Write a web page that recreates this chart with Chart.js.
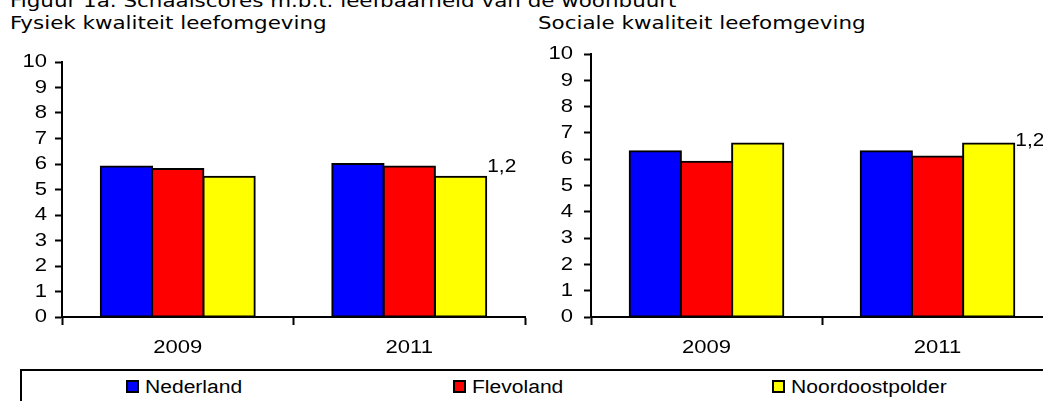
<!DOCTYPE html>
<html>
<head>
<meta charset="utf-8">
<script src="https://cdn.jsdelivr.net/npm/chart.js@4/dist/chart.umd.min.js"></script>
<style>
  html, body { margin: 0; padding: 0; width: 1043px; height: 401px; overflow: hidden; background: #fff; }
  .t { position: absolute; font-family: "DejaVu Sans", Verdana, sans-serif; font-size: 18px; line-height: 22px; color: #000; white-space: nowrap; transform: scaleX(1.19); transform-origin: 0 0; }
  canvas { position: absolute; }
  #legend { position: absolute; left: 20px; top: 369px; width: 1100px; height: 60px; border: 2px solid #000; box-sizing: border-box; }
  .li { position: absolute; top: 9px; height: 16px; }
  .sw { position: absolute; left: 0; top: 0; width: 13px; height: 13px; border: 2px solid #000; box-sizing: border-box; }
  .lt { position: absolute; left: 19px; top: -4px; font-family: "Liberation Sans", Arial, sans-serif; font-size: 18px; line-height: 22px; white-space: nowrap; transform: scaleX(1.17); transform-origin: 0 0; }
</style>
</head>
<body>
<div class="t" style="left:10px; top:-10px;">Figuur 1a. Schaalscores m.b.t. leefbaarheid van de woonbuurt</div>
<div class="t" id="title1" style="left:10px; top:12px;"></div>
<div class="t" id="title2" style="left:538px; top:12px;"></div>
<canvas id="c1" width="560" height="365" style="left:0; top:0; width:560px; height:365px;"></canvas>
<canvas id="c2" width="530" height="365" style="left:530px; top:0; width:530px; height:365px;"></canvas>
<div id="legend"></div>
<script>
// ---- data ----
const categories = ['2009', '2011'];
const seriesNames = ['Nederland', 'Flevoland', 'Noordoostpolder'];
const seriesColors = ['#0000FF', '#FF0000', '#FFFF00'];
const panelTitles = ['Fysiek kwaliteit leefomgeving', 'Sociale kwaliteit leefomgeving'];
const yTickValues = [0, 1, 2, 3, 4, 5, 6, 7, 8, 9, 10];
const fysiekNederland = [5.9, 6.0];
const fysiekFlevoland = [5.8, 5.9];
const fysiekNoordoostpolder = [5.5, 5.5];
const socialeNederland = [6.3, 6.3];
const socialeFlevoland = [5.9, 6.1];
const socialeNoordoostpolder = [6.6, 6.6];
const noteText = '1,2';

// ---- text stretch (reference text is horizontally widened) ----
const SX = 1.16;
function stretchCtx(canvas, sx) {
  const ctx = canvas.getContext('2d');
  const f = ctx.fillText.bind(ctx);
  const m = ctx.measureText.bind(ctx);
  ctx.fillText = function (t, x, y) {
    ctx.save(); ctx.translate(x, y); ctx.scale(sx, 1); f(t, 0, 0); ctx.restore();
  };
  ctx.measureText = function (t) {
    const r = m(t);
    return { width: r.width * sx, actualBoundingBoxAscent: r.actualBoundingBoxAscent, actualBoundingBoxDescent: r.actualBoundingBoxDescent, actualBoundingBoxLeft: r.actualBoundingBoxLeft, actualBoundingBoxRight: r.actualBoundingBoxRight };
  };
}

document.getElementById('title1').textContent = panelTitles[0];
document.getElementById('title2').textContent = panelTitles[1];

// legend
const legend = document.getElementById('legend');
const legendStarts = [104, 431, 750];
seriesNames.forEach((n, i) => {
  const d = document.createElement('div');
  d.className = 'li';
  d.style.left = legendStarts[i] + 'px';
  const s = document.createElement('div'); s.className = 'sw'; s.style.background = seriesColors[i];
  const t = document.createElement('div'); t.className = 'lt'; t.textContent = n;
  d.appendChild(s); d.appendChild(t); legend.appendChild(d);
});

Chart.defaults.font.family = '"Liberation Sans", Arial, sans-serif';
Chart.defaults.font.size = 19;
Chart.defaults.color = '#000';

const notePlugin = {
  id: 'note',
  afterDatasetsDraw(chart, args, opts) {
    const meta = chart.getDatasetMeta(seriesNames.length - 1);
    const bar = meta.data[categories.length - 1];
    const ctx = chart.ctx;
    ctx.save();
    ctx.font = '18px "Liberation Sans", Arial, sans-serif';
    ctx.fillStyle = '#000';
    ctx.textAlign = 'left';
    ctx.textBaseline = 'alphabetic';
    ctx.fillText(opts.text, bar.x + bar.width / 2 + opts.dx, bar.y + opts.dy);
    ctx.restore();
  }
};

function makeChart(id, values, cfg) {
  const canvas = document.getElementById(id);
  stretchCtx(canvas, SX);
  return new Chart(canvas, {
    type: 'bar',
    data: {
      labels: categories,
      datasets: values.map((v, i) => ({
        label: seriesNames[i],
        data: v,
        backgroundColor: seriesColors[i],
        borderColor: '#000',
        borderWidth: 2,
        borderSkipped: false,
        inflateAmount: 1,
        categoryPercentage: 0.665,
        barPercentage: 1.0
      }))
    },
    options: {
      responsive: false,
      animation: false,
      events: [],
      layout: { padding: { top: cfg.top, right: cfg.right, left: 0, bottom: 0 } },
      plugins: {
        legend: { display: false },
        tooltip: { enabled: false },
        note: { text: noteText, dx: cfg.noteDx, dy: cfg.noteDy }
      },
      scales: {
        x: {
          offset: true,
          grid: { drawOnChartArea: false, drawTicks: true, tickLength: 8, tickWidth: 2, tickColor: '#000', offset: true },
          border: { color: '#000', width: 2 },
          ticks: { padding: 11, maxRotation: 0, autoSkip: false },
          afterFit(s) { s.height = 48; }
        },
        y: {
          min: 0, max: 10,
          afterBuildTicks(s) { s.ticks = yTickValues.map(v => ({ value: v })); },
          grid: { drawOnChartArea: false, drawTicks: true, tickLength: 7, tickWidth: 2, tickColor: '#000' },
          border: { color: '#000', width: 2 },
          ticks: { padding: cfg.yPad, autoSkip: false },
          afterFit(s) { s.width = cfg.yw; }
        }
      }
    },
    plugins: [notePlugin]
  });
}

makeChart('c1', [fysiekNederland, fysiekFlevoland, fysiekNoordoostpolder], { top: 62, right: 35, yw: 62, yPad: 8, noteDx: 1, noteDy: -5 });
makeChart('c2', [socialeNederland, socialeFlevoland, socialeNoordoostpolder], { top: 54, right: 7, yw: 61, yPad: 11, noteDx: 1, noteDy: 3 });
</script>
</body>
</html>
